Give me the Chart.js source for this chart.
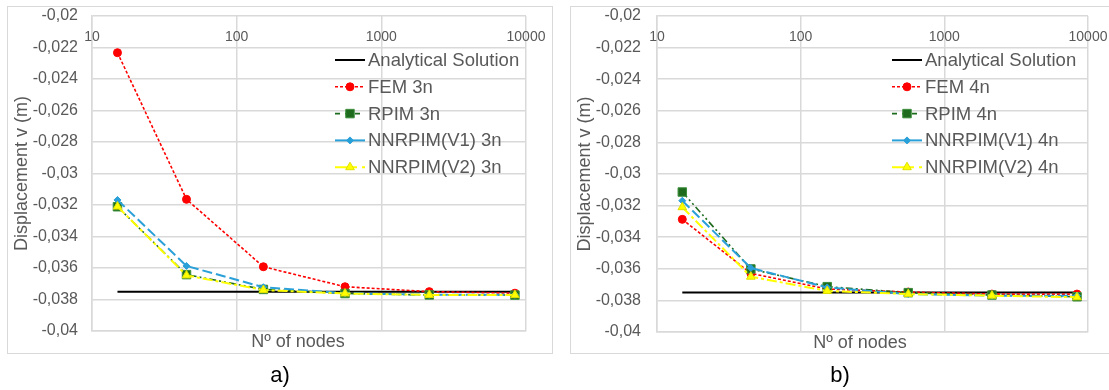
<!DOCTYPE html>
<html>
<head>
<meta charset="utf-8">
<script src="https://cdn.jsdelivr.net/npm/chart.js@4.4.1/dist/chart.umd.min.js"></script>
<style>
  html, body { margin: 0; padding: 0; background: #fff; }
  body { width: 1109px; height: 390px; position: relative; overflow: hidden; font-family: "Liberation Sans", Arial, sans-serif; }
  .frame { position: absolute; border: 1px solid #d9d9d9; box-sizing: border-box; }
  canvas { position: absolute; top: 0; }
  .tag { position: absolute; top: 362px; width: 60px; text-align: center; font-size: 22px; color: #000; }
</style>
</head>
<body>
<div class="frame" style="left:7px; top:6px; width:546px; height:348px;"></div>
<div class="frame" style="left:570px; top:6px; width:560px; height:348px;"></div>
<canvas id="chartA" width="560" height="390" style="left:0px;"></canvas>
<canvas id="chartB" width="549" height="390" style="left:560px;"></canvas>
<div class="tag" style="left:250px;">a)</div>
<div class="tag" style="left:810px;">b)</div>
<script>
// Number of nodes of each mesh (shared by both panels)
const nodes = [15, 45, 153, 561, 2145, 8385];

// Reference value
const analytical = [-0.0375, -0.0375, -0.0375, -0.0375, -0.0375, -0.0375];

// Panel a) - 3-node integration
const fem3   = [-0.02233, -0.03164, -0.03592, -0.03719, -0.0375, -0.0376];
const rpim3  = [-0.03211, -0.03642, -0.03736, -0.03762, -0.03771, -0.03772];
const nnV1_3 = [-0.03168, -0.03587, -0.03722, -0.0376, -0.0377, -0.0377];
const nnV2_3 = [-0.0321, -0.03647, -0.0374, -0.03762, -0.03771, -0.03772];

// Panel b) - 4-node integration
const fem4   = [-0.03287, -0.03629, -0.03728, -0.03747, -0.0376, -0.0376];
const rpim4  = [-0.03114, -0.03601, -0.03713, -0.03751, -0.03766, -0.03777];
const nnV1_4 = [-0.03169, -0.03595, -0.03718, -0.0376, -0.0377, -0.0377];
const nnV2_4 = [-0.0321, -0.0365, -0.0374, -0.0376, -0.0377, -0.0378];

// Axis ticks and labels
const xTickValues = [10, 100, 1000, 10000];
const xTickLabels = ['10', '100', '1000', '10000'];
const yTickValues = [-0.04, -0.038, -0.036, -0.034, -0.032, -0.03, -0.028, -0.026, -0.024, -0.022, -0.02];
const yTickLabels = ['-0,04', '-0,038', '-0,036', '-0,034', '-0,032', '-0,03', '-0,028', '-0,026', '-0,024', '-0,022', '-0,02'];

const xTitle = 'Nº of nodes';
const yTitle = 'Displacement v (m)';
const namesA = ['Analytical Solution', 'FEM 3n', 'RPIM 3n', 'NNRPIM(V1) 3n', 'NNRPIM(V2) 3n'];
const namesB = ['Analytical Solution', 'FEM 4n', 'RPIM 4n', 'NNRPIM(V1) 4n', 'NNRPIM(V2) 4n'];

const GRID = '#d9d9d9';
const TEXT = '#595959';
const FONT = '"Liberation Sans", Arial, sans-serif';

const pts = vals => nodes.map((n, i) => ({ x: n, y: vals[i] }));

function makeDatasets(names, series) {
  const styles = [
    { borderColor: '#000000', backgroundColor: '#000000', borderWidth: 2, borderDash: [], pointRadius: 0, pointStyle: false },
    { borderColor: '#ff0000', backgroundColor: '#ff0000', borderWidth: 1.6, borderDash: [3, 2], pointStyle: 'circle', pointRadius: 4 },
    { borderColor: '#1e6b1e', backgroundColor: '#1e6b1e', borderWidth: 1.6, borderDash: [7, 3, 2, 3, 2, 3], legendDash: [5, 5], pointStyle: 'rect', pointRadius: 6, pointBorderColor: '#3c8f3c' },
    { borderColor: '#2aa0d8', backgroundColor: '#2aa0d8', borderWidth: 2, borderDash: [10, 4], legendDash: [], pointStyle: 'rectRot', pointRadius: 3.5 },
    { borderColor: '#ffff00', backgroundColor: '#ffff00', borderWidth: 2, borderDash: [10, 3, 3, 3], legendDash: [12, 5, 5, 5], pointStyle: 'triangle', pointRadius: 5, pointBorderColor: '#e0e000' }
  ];
  return names.map((name, i) => Object.assign({
    label: name,
    data: pts(series[i]),
    fill: false,
    tension: 0,
    order: names.length - 1 - i,
    pointBorderWidth: 1
  }, styles[i]));
}

// Draws the in-plot tick labels, axis titles and legend
const panelText = {
  id: 'panelText',
  afterDraw(chart, args, opts) {
    const ctx = chart.ctx;
    const area = chart.chartArea;
    const xs = chart.scales.x;
    ctx.save();
    // top decade labels, drawn inside the plot area
    ctx.fillStyle = TEXT;
    ctx.font = '14px ' + FONT;
    ctx.textAlign = 'center';
    ctx.textBaseline = 'middle';
    xTickValues.forEach((v, i) => {
      ctx.fillText(xTickLabels[i], xs.getPixelForValue(v), area.top + 21);
    });
    // axis titles
    ctx.font = '18px ' + FONT;
    ctx.fillText(xTitle, opts.xTitleX, area.bottom + 11);
    ctx.save();
    ctx.translate(opts.yTitleX, (area.top + area.bottom) / 2);
    ctx.rotate(-Math.PI / 2);
    ctx.fillText(yTitle, 0, 0);
    ctx.restore();
    // legend
    ctx.textAlign = 'left';
    ctx.font = '18.5px ' + FONT;
    chart.data.datasets.forEach((ds, i) => {
      const y = area.top + 44 + i * 26.8;
      const x0 = opts.legendX;
      ctx.save();
      ctx.strokeStyle = ds.borderColor;
      ctx.lineWidth = ds.borderWidth;
      ctx.setLineDash(ds.legendDash || ds.borderDash || []);
      ctx.beginPath();
      ctx.moveTo(x0, y);
      ctx.lineTo(x0 + 30, y);
      ctx.stroke();
      ctx.setLineDash([]);
      if (ds.pointStyle) {
        ctx.fillStyle = ds.backgroundColor;
        ctx.strokeStyle = ds.pointBorderColor || ds.borderColor;
        ctx.lineWidth = 1;
        Chart.helpers.drawPoint(ctx, { pointStyle: ds.pointStyle, radius: ds.pointRadius, rotation: 0, borderWidth: 1 }, x0 + 15, y);
      }
      ctx.restore();
      ctx.fillStyle = TEXT;
      ctx.fillText(ds.label, x0 + 33, y + 1);
    });
    ctx.restore();
  }
};

function buildPanel(id, names, series, g) {
  return new Chart(document.getElementById(id), {
    type: 'line',
    data: { datasets: makeDatasets(names, series) },
    options: {
      responsive: false,
      devicePixelRatio: 1,
      animation: false,
      layout: { padding: { left: 0, top: g.padTop, right: g.padRight, bottom: 0 } },
      plugins: {
        legend: { display: false },
        tooltip: { enabled: false },
        panelText: { legendX: g.legendX, xTitleX: g.xTitleX, yTitleX: g.yTitleX }
      },
      scales: {
        x: {
          type: 'logarithmic',
          position: 'bottom',
          min: 10,
          max: 10000,
          afterBuildTicks: s => { s.ticks = xTickValues.map(v => ({ value: v })); },
          afterFit: s => { s.height = g.xHeight; },
          ticks: { display: false },
          grid: { color: GRID, lineWidth: 1.5, drawTicks: false },
          border: { color: GRID, width: 1.5 }
        },
        y: {
          type: 'linear',
          min: -0.04,
          max: -0.02,
          afterBuildTicks: s => { s.ticks = yTickValues.map(v => ({ value: v })); },
          afterFit: s => { s.width = g.axisWidth; },
          ticks: {
            padding: 0,
            color: TEXT,
            font: { family: FONT, size: 16 },
            callback: (v, i) => yTickLabels[i]
          },
          // invisible tick marks set the gap between labels and plot
          grid: { color: GRID, lineWidth: 1.5, drawTicks: true, tickLength: g.tickGap, tickColor: 'rgba(0,0,0,0)' },
          border: { color: GRID, width: 1.5 }
        }
      }
    },
    plugins: [panelText]
  });
}

buildPanel('chartA', namesA, [analytical, fem3, rpim3, nnV1_3, nnV2_3],
  { axisWidth: 92, tickGap: 14, padTop: 16, padRight: 34, xHeight: 59, legendX: 335, xTitleX: 298, yTitleX: 22 });
buildPanel('chartB', namesB, [analytical, fem4, rpim4, nnV1_4, nnV2_4],
  { axisWidth: 97, tickGap: 16, padRight: 21, padTop: 16, xHeight: 58, legendX: 332, xTitleX: 300, yTitleX: 25 });
</script>
</body>
</html>
